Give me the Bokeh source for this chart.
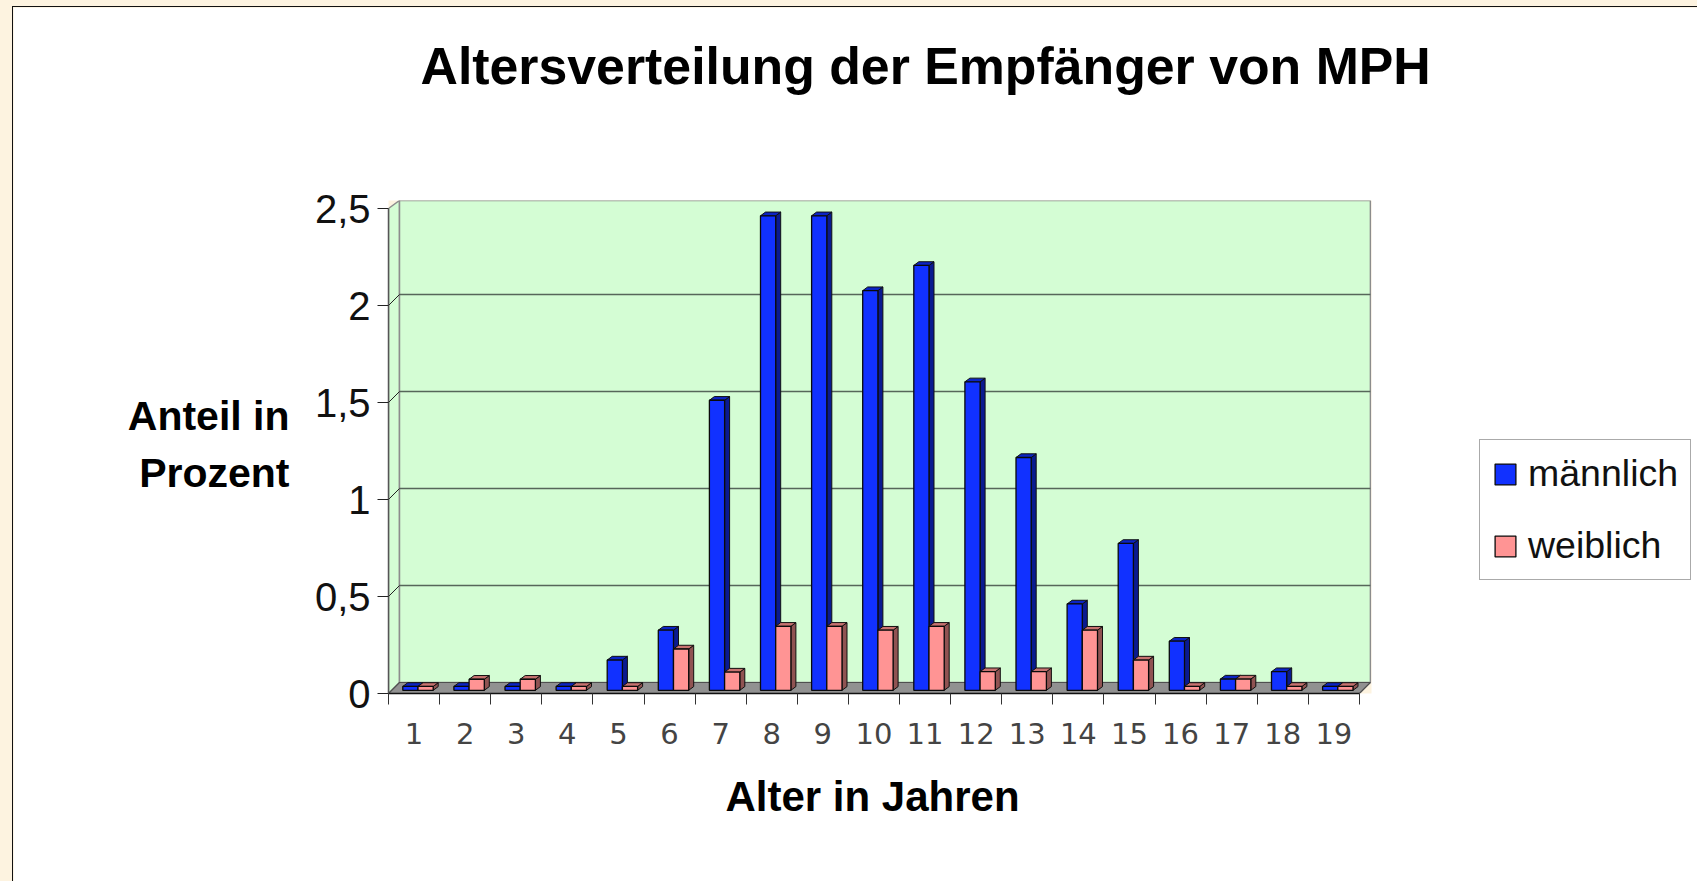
from bokeh.embed import file_html
from bokeh.models import FixedTicker, Label, Legend, LegendItem, Range1d
from bokeh.plotting import figure
from bokeh.resources import INLINE

ages = list(range(1, 20))
maennlich = [0.02, 0.02, 0.02, 0.02, 0.156, 0.31, 1.495, 2.446, 2.446, 2.06, 2.19, 1.59, 1.2, 0.445, 0.757, 0.253, 0.058, 0.096, 0.02]
weiblich = [0.02, 0.057, 0.057, 0.02, 0.02, 0.213, 0.094, 0.33, 0.33, 0.31, 0.33, 0.096, 0.096, 0.31, 0.156, 0.02, 0.058, 0.02, 0.02]
y_ticks = [0, 0.5, 1, 1.5, 2, 2.5]
y_labels = {0: "0", 0.5: "0,5", 1: "1", 1.5: "1,5", 2: "2", 2.5: "2,5"}

PX_X, PX_Y = 51.1, 194.0          # pixels per data unit
FRAME_W, FRAME_H = 983, 493
DX, DY = 11 / PX_X, 11 / PX_Y     # depth of the chart box
BDX, BDY = 5 / PX_X, 3.7 / PX_Y   # depth of one bar
OFF_X, OFF_Y = 14.3 / PX_X, 3.2 / PX_Y
BAR_W = 15.2 / PX_X
TOP = FRAME_H / PX_Y

p = figure(width=1685, height=877, output_backend="svg", toolbar_location=None,
           frame_width=FRAME_W, frame_height=FRAME_H,
           x_range=Range1d(0.5, 0.5 + FRAME_W / PX_X), y_range=Range1d(0, TOP),
           min_border_left=375, min_border_right=0, min_border_top=193, min_border_bottom=189,
           background_fill_color=None, border_fill_color="white", outline_line_color=None)
p.styles = {"margin-left": "12px", "margin-top": "6px",
            "border-left": "1.5px solid #111", "border-top": "1.5px solid #111", "box-sizing": "border-box"}
p.grid.visible = False

# chart box
L, R = 0.5, ages[-1] + 0.5
wall = "#d4fdd4"
box_edge = "#8c8c8c"
p.patch([L, L + DX, L + DX, L], [0, DY, TOP, 2.5], fill_color=wall, line_color=box_edge, line_width=1.5)
p.quad(left=[L + DX], right=[R + DX], bottom=[DY], top=[TOP], fill_color=wall, line_color=box_edge, line_width=1.5)
p.patch([L, L + DX, R + DX, R], [0, DY, DY, 0], fill_color="#919191", line_color="#4f4f4f", line_width=1.2)
grid_v = y_ticks[1:-1]
p.segment([L + DX] * len(grid_v), [v + DY for v in grid_v], [R + DX] * len(grid_v), [v + DY for v in grid_v],
          line_color="#56665a", line_width=1.6)
p.segment([L] * len(grid_v), grid_v, [L + DX] * len(grid_v), [v + DY for v in grid_v], line_color="#222222", line_width=1)


def bars(values, shift, front, side, top_col):
    lefts = [a - 0.5 + OFF_X + shift for a in ages]
    rights = [l + BAR_W for l in lefts]
    bases = [OFF_Y] * len(values)
    tops = [v + OFF_Y for v in values]
    p.patches([[r, r + BDX, r + BDX, r] for r in rights],
              [[OFF_Y, OFF_Y + BDY, t + BDY, t] for t in tops],
              fill_color=side, line_color="#101010", line_width=1)
    p.patches([[l, l + BDX, r + BDX, r] for l, r in zip(lefts, rights)],
              [[t, t + BDY, t + BDY, t] for t in tops],
              fill_color=top_col, line_color="#101010", line_width=1)
    return p.quad(left=lefts, right=rights, bottom=bases, top=tops,
                  fill_color=front, line_color="#0a0a0a", line_width=1.3)


r_m = bars(maennlich, 0, "#1131ff", "#0a1a90", "#0c24c4")
r_w = bars(weiblich, BAR_W, "#ff9494", "#905352", "#c87270")

# axes
xa = p.xaxis[0]
xa.ticker = FixedTicker(ticks=ages, minor_ticks=[a - 0.5 for a in ages] + [R])
xa.bounds = (L, R)
xa.major_tick_in = xa.major_tick_out = 0
xa.minor_tick_in = 0
xa.minor_tick_out = 11
xa.minor_tick_line_color = "#333333"
xa.minor_tick_line_width = 1
xa.axis_line_color = "#111111"
xa.axis_line_width = 1.5
xa.major_label_standoff = 18
xa.major_label_text_font = "DejaVu Sans"
xa.major_label_text_font_size = "29px"
xa.major_label_text_color = "#444444"

ya = p.yaxis[0]
ya.ticker = FixedTicker(ticks=y_ticks)
ya.major_label_overrides = y_labels
ya.bounds = (0, 2.5)
ya.major_tick_in = 0
ya.major_tick_out = 11
ya.major_tick_line_color = "#222222"
ya.minor_tick_line_color = None
ya.axis_line_color = "#555555"
ya.axis_line_width = 1.5
ya.major_label_standoff = 7
ya.major_label_text_font = "Liberation Sans"
ya.major_label_text_font_size = "40px"
ya.major_label_text_color = "#111111"

p.add_layout(Label(x=32, y=135, x_units="screen", y_units="screen",
                   text="Altersverteilung der Empfänger von MPH",
                   text_color="black", text_font="Liberation Sans", text_font_style="bold", text_font_size="51.8px",
                   text_align="left", text_baseline="middle"), "above")
p.add_layout(Label(x=140, y=249, x_units="screen", y_units="screen", text="Anteil in\nProzent",
                   text_color="black", text_font="Liberation Sans", text_font_style="bold", text_font_size="41px",
                   text_align="right", text_baseline="middle", text_line_height=1.25), "left")
p.add_layout(Label(x=337, y=-3, x_units="screen", y_units="screen", text="Alter in Jahren",
                   text_color="black", text_font="Liberation Sans", text_font_style="bold", text_font_size="42px",
                   text_align="left", text_baseline="middle"), "below")

legend = Legend(items=[LegendItem(label="männlich", renderers=[r_m]), LegendItem(label="weiblich", renderers=[r_w])],
                location=(108, 113), orientation="vertical",
                glyph_width=26, glyph_height=26, label_standoff=10, label_height=37, spacing=29,
                padding=12, margin=0, label_text_font="Liberation Sans", label_text_font_size="37.5px",
                label_text_color="#111111", border_line_color="#555555", border_line_width=1.5,
                background_fill_color="white", background_fill_alpha=1)
p.add_layout(legend, "right")

html = file_html(p, INLINE)
html = html.replace("</head>", "<style>html,body{background:#fdf3e0;overflow:hidden}</style></head>", 1)
open("out.html", "w").write(html)
